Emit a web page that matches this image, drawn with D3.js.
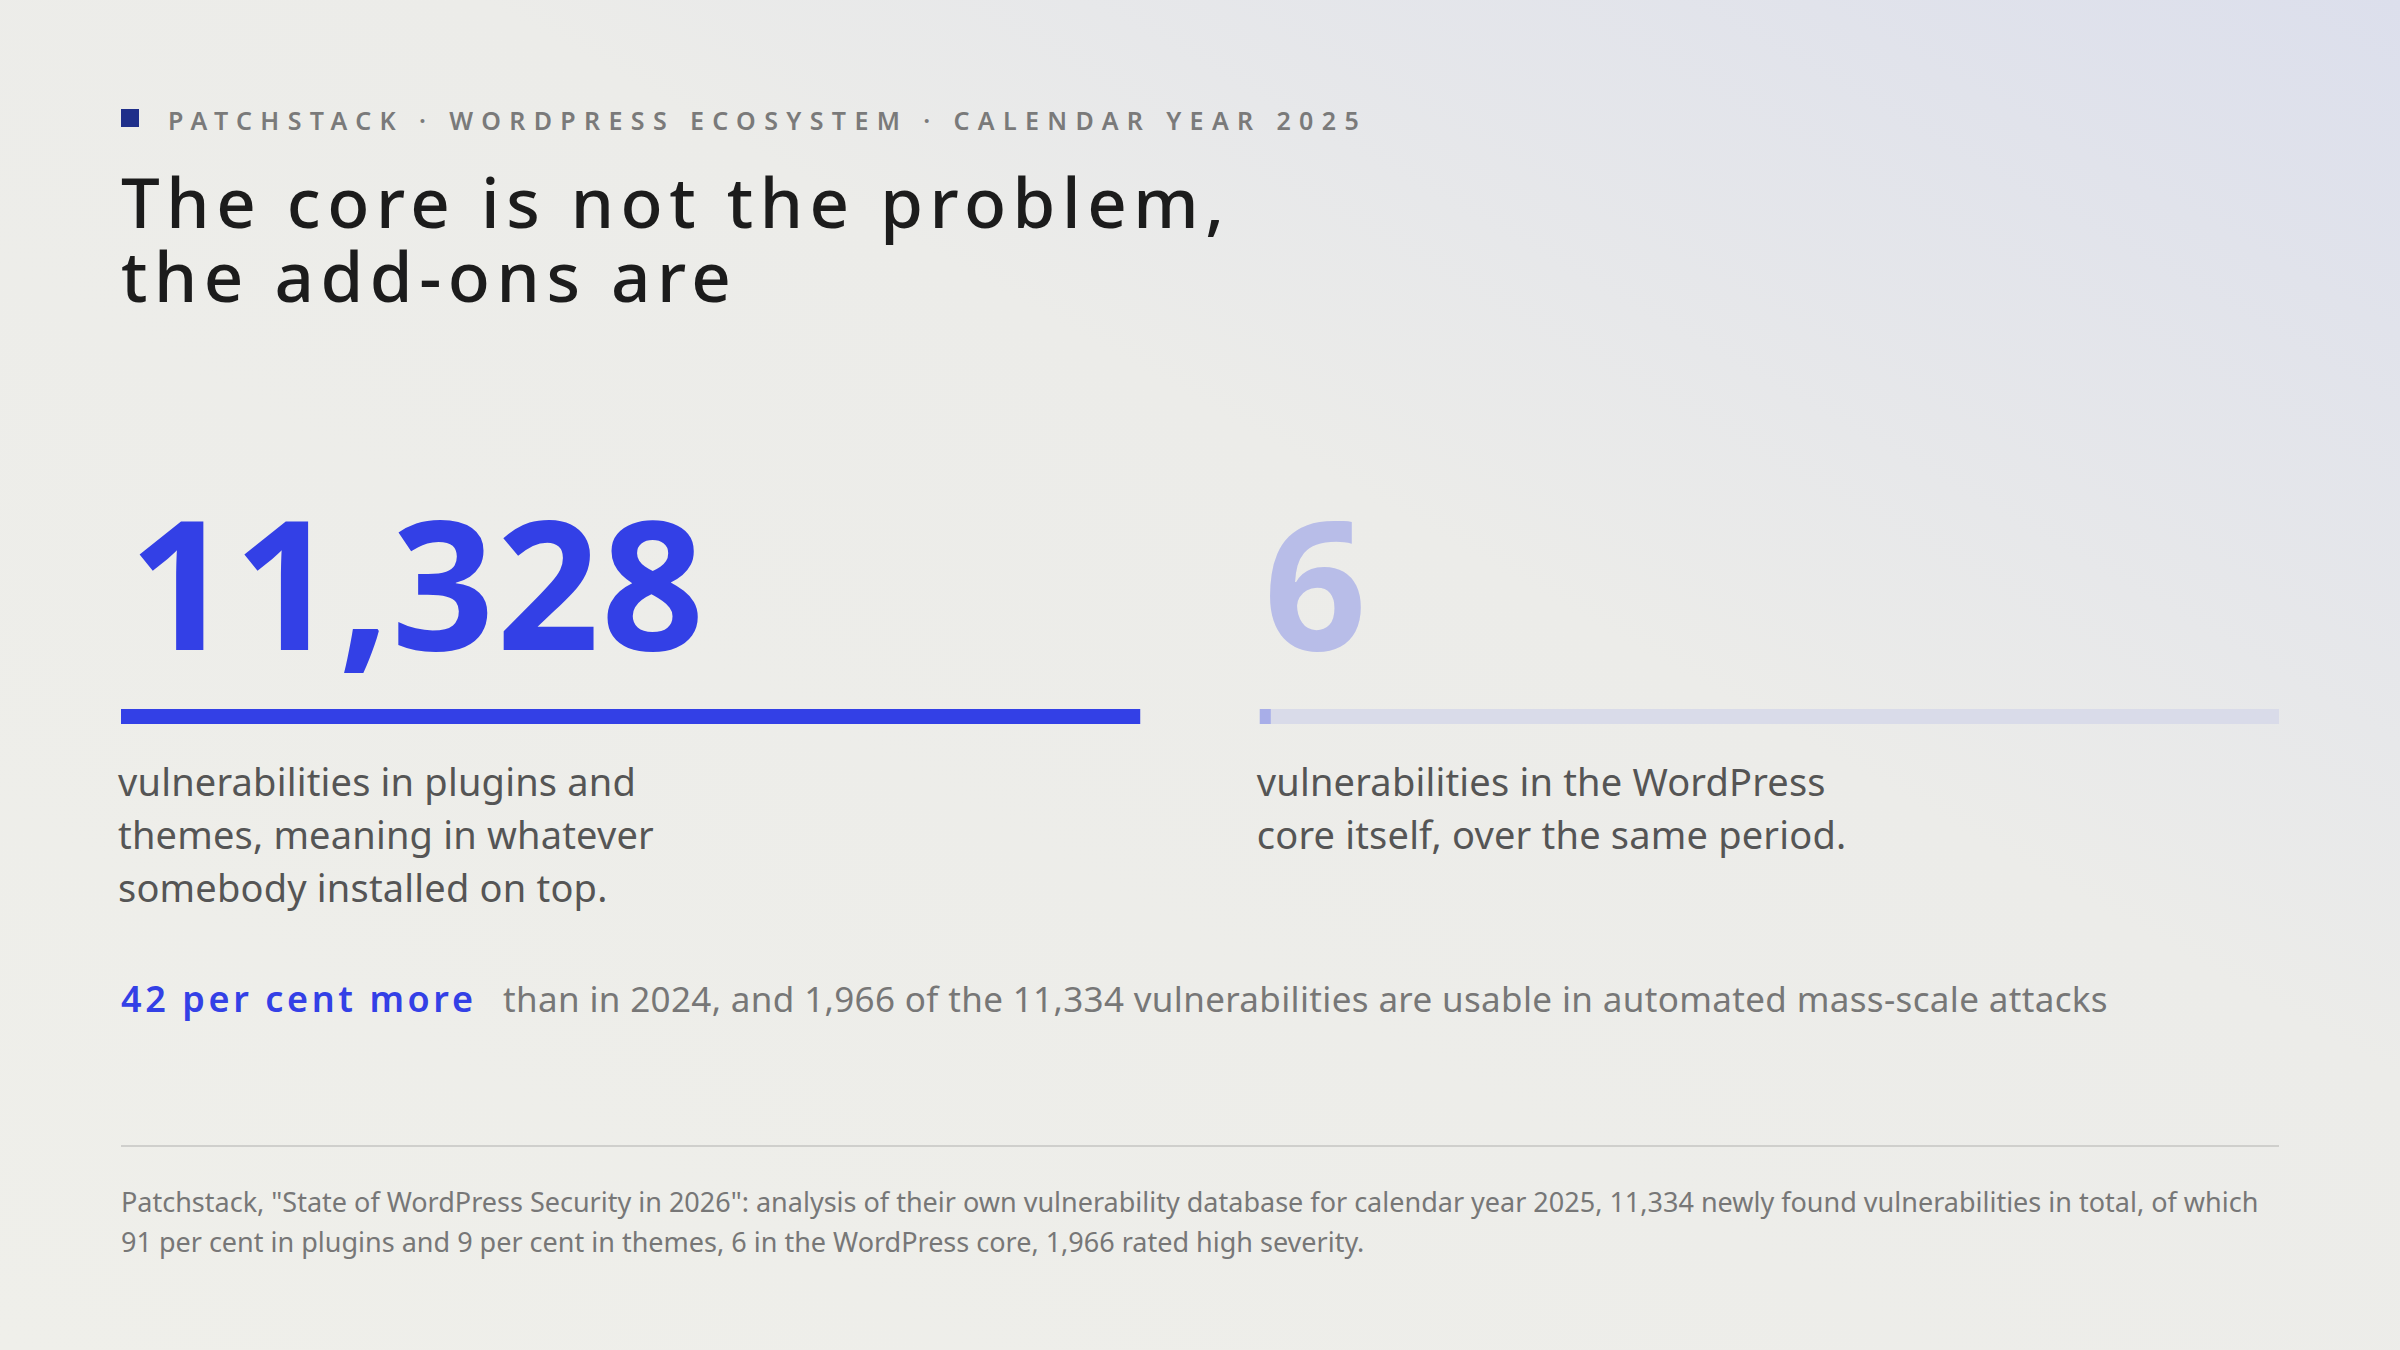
<!DOCTYPE html>
<html><head><meta charset="utf-8">
<script src="https://cdn.jsdelivr.net/npm/d3@7"></script>
<style>body{margin:0;overflow:hidden}svg{display:block}</style>
</head><body><svg width="2400" height="1350"></svg>
<script>
// values
const labels = ["11,328", "6"];
const values = [11328, 6];
const captions = [
  ["vulnerabilities in plugins and", "themes, meaning in whatever", "somebody installed on top."],
  ["vulnerabilities in the WordPress", "core itself, over the same period."]
];
const kicker = "PATCHSTACK · WORDPRESS ECOSYSTEM · CALENDAR YEAR 2025";
const titleLines = ["The core is not the problem,", "the add-ons are"];
const sourceLines = [
  'Patchstack, "State of WordPress Security in 2026": analysis of their own vulnerability database for calendar year 2025, 11,334 newly found vulnerabilities in total, of which',
  "91 per cent in plugins and 9 per cent in themes, 6 in the WordPress core, 1,966 rated high severity."
];

var svg = d3.select('svg');
var font = "'Noto Sans', sans-serif";

var defs = svg.append('defs');
var g = defs.append('linearGradient').attr('id','bg').attr('x1','0').attr('y1','1').attr('x2','1').attr('y2','0');
g.append('stop').attr('offset','0').attr('stop-color','#efefea');
g.append('stop').attr('offset','0.6').attr('stop-color','#ecece9');
g.append('stop').attr('offset','1').attr('stop-color','#dcdfec');
svg.append('rect').attr('width',2400).attr('height',1350).attr('fill','url(#bg)');

svg.append('rect').attr('x',121).attr('y',109).attr('width',18).attr('height',18).attr('fill','#1f2f8a');
svg.append('text').attr('x',168).attr('y',130).text(kicker)
  .style('font-family',font).style('font-size','25px').style('font-weight',600)
  .style('letter-spacing','0.335em').attr('fill','#7a7a7a');

svg.append('g').selectAll('text').data(titleLines).enter().append('text')
  .attr('x',121).attr('y',(d,i)=>228+i*74).text(d=>d)
  .style('font-family',font).style('font-size','69px').style('font-weight',500)
  .style('letter-spacing','0.095em').attr('fill','#1c1c1c');

// panels
var panelX = d3.scaleBand().domain([0,1]).range([121,2279]).paddingInner(0.105);
var w = d3.scaleLinear().domain([0,11328]).range([0,panelX.bandwidth()]);
var numColor = ['#3340e6','#b8bde8'];
var fillColor = ['#3340e6','#a8aee8'];

var p = svg.append('g').selectAll('g').data(values).enter().append('g')
  .attr('transform',(d,i)=>'translate('+panelX(i)+',0)');
p.append('text').attr('x',(d,i)=>i?4:8).attr('y',650).text((d,i)=>labels[i])
  .style('font-family',font).style('font-size','180px').style('font-weight',700)
  .style('letter-spacing','0.01em').attr('fill',(d,i)=>numColor[i]);
p.append('rect').attr('y',709).attr('height',15).attr('width',panelX.bandwidth()).attr('fill','#d9dbe9');
p.append('rect').attr('y',709).attr('height',15).attr('width',d=>Math.max(w(d),11)).attr('fill',(d,i)=>fillColor[i]);
p.each(function(d,i){
  d3.select(this).selectAll('text.cap').data(captions[i]).enter().append('text').attr('class','cap')
    .attr('x',-3).attr('y',(t,j)=>796+j*53).text(t=>t)
    .style('font-family',font).style('font-size','38px').style('letter-spacing','0.005em').attr('fill','#555');
});

var hl = svg.append('text').attr('x',121).attr('y',1012).style('font-family',font);
hl.append('tspan').text('42 per cent more').style('font-size','36px').style('font-weight',600)
  .style('letter-spacing','0.1em').attr('fill','#3340e6');
hl.append('tspan').attr('x',503).text('than in 2024, and 1,966 of the 11,334 vulnerabilities are usable in automated mass-scale attacks')
  .style('font-size','35px').style('letter-spacing','0.01em').attr('fill','#777');

svg.append('line').attr('x1',121).attr('x2',2279).attr('y1',1146).attr('y2',1146).attr('stroke','#cfcfcc').attr('stroke-width',2);
svg.append('g').selectAll('text').data(sourceLines).enter().append('text')
  .attr('x',121).attr('y',(d,i)=>1212+i*40).text(d=>d)
  .style('font-family',font).style('font-size','27px').attr('fill','#777');
</script></body></html>
